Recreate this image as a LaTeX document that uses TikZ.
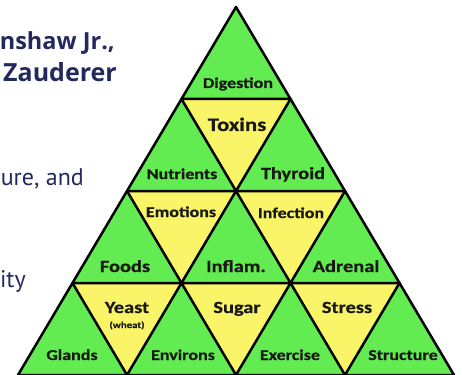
\documentclass[tikz,border=0pt]{standalone}
\usepackage{fontspec}
\newfontfamily\lab[FakeStretch=1.2, BoldFeatures={FakeBold=0.6}]{Carlito}
\newfontfamily\bodyfont{PT Sans}
\newfontfamily\headfont{Open Sans}
\definecolor{tgreen}{RGB}{98,236,82}
\definecolor{tyellow}{RGB}{250,244,104}
\definecolor{navy}{RGB}{36,40,92}
\definecolor{ink}{RGB}{25,25,20}
\begin{document}
\begin{tikzpicture}[x=1pt,y=-1pt,
  lab/.style={font=\lab\bfseries\fontsize{#1}{#1}\selectfont, text=ink, inner sep=0pt, anchor=base},
  side/.style={font=\bodyfont\fontsize{24}{26}\selectfont, text=navy, inner sep=0pt, anchor=base east},
  head/.style={font=\headfont\bfseries\fontsize{#1}{24}\selectfont, text=navy, inner sep=0pt, anchor=base east},
  edge/.style={draw=black, line width=2.5pt, line join=round}]
\useasboundingbox (0,0) rectangle (462,374);
% vertices
\foreach \k in {0,...,4}{
  \foreach \j in {0,...,\k}{
    \coordinate (v\k-\j) at ({236+(2*\j-\k)*54.5},{7+92*\k});
  }
}
% whole triangle green
\fill[tgreen] (v0-0) -- (v4-0) -- (v4-4) -- cycle;
% downward triangles yellow
\foreach \r in {2,3,4}{
  \pgfmathtruncatemacro\p{\r-1}
  \pgfmathtruncatemacro\q{\r-2}
  \foreach \j in {0,...,\q}{
    \pgfmathtruncatemacro\jj{\j+1}
    \fill[tyellow] (v\p-\j) -- (v\p-\jj) -- (v\r-\jj) -- cycle;
  }
}
% outlines of upward triangles
\foreach \r in {1,2,3,4}{
  \pgfmathtruncatemacro\p{\r-1}
  \foreach \j in {0,...,\p}{
    \pgfmathtruncatemacro\jj{\j+1}
    \draw[edge] (v\p-\j) -- (v\r-\j) -- (v\r-\jj) -- cycle;
  }
}
% labels
\node[lab=15] (dig) at (238,88) {Digestion};
\node[lab=19] (tox) at (237,131) {Toxins};
\node[lab=15] (nut) at (182,179) {Nutrients};
\node[lab=17] (thy) at (293,179) {Thyroid};
\node[lab=15] (emo) at (181,217) {Emotions};
\node[lab=15] (inf) at (291,218) {Infection};
\node[lab=17] (foo) at (125,272) {Foods};
\node[lab=17] (infl) at (236,272) {Inflam.};
\node[lab=17] (adr) at (346,272) {Adrenal};
\node[lab=17] (yea) at (127,313) {Yeast};
\node[lab=9] (whe) at (127,328) {(wheat)};
\node[lab=17] (sug) at (237,313) {Sugar};
\node[lab=17] (str) at (347,313) {Stress};
\node[lab=15] (gla) at (72,360) {Glands};
\node[lab=15] (env) at (183,360) {Environs};
\node[lab=15] (exe) at (290,360) {Exercise};
\node[lab=15] (stc) at (403,360) {Structure};
% side text
\node[head=23.5] (t1) at (115,50) {nshaw Jr.,};
\node[head=25] (t2) at (117,82) {Zauderer};
\node[side] (t3) at (84,185) {ure, and};
\node[side] (t4) at (26,287) {ity};
\end{tikzpicture}
\end{document}
